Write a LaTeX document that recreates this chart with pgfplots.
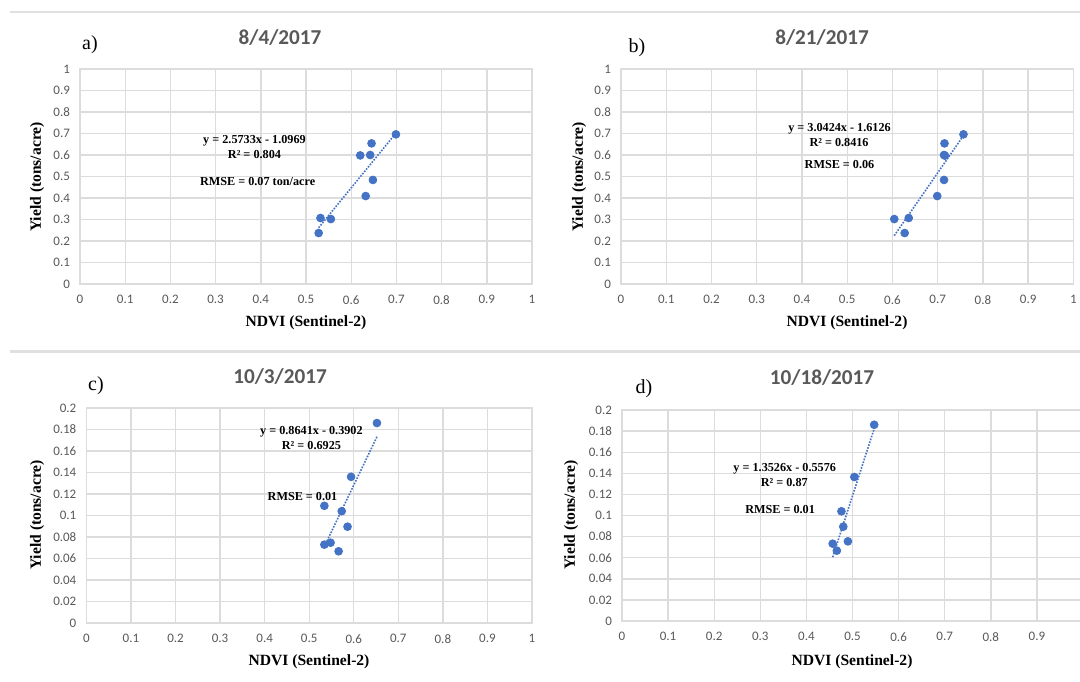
\documentclass[border=0pt]{standalone}
\usepackage{fontspec}
\setmainfont{Liberation Serif}
\newfontfamily\calibri{Carlito}
\usepackage{pgfplots}
\pgfplotsset{compat=1.18}

\definecolor{xlblue}{HTML}{4472C4}
\definecolor{xlgrid}{HTML}{DCDCDC}
\definecolor{xltext}{HTML}{595959}
\definecolor{sepline}{HTML}{E0E0E0}

\pgfplotsset{
  panel/.style={
    scale only axis, anchor=south west, clip=false,
    xmin=0, xmax=1,
    xtick={0,0.1,0.2,0.3,0.4,0.5,0.6,0.7,0.8,0.9,1},
    xticklabels={0,0.1,0.2,0.3,0.4,0.5,0.6,0.7,0.8,0.9,1},
    grid=major, grid style={xlgrid, line width=0.7pt},
    axis line style={xlgrid, line width=0.7pt},
    tick style={draw=none},
    tick label style={font=\calibri\fontsize{6.5}{7}\selectfont, text=xltext},
    xticklabel style={yshift=-2.2pt},
    yticklabel style={xshift=-1.5pt},
  },
  big/.style={ymin=0, ymax=1,
    ytick={0,0.1,0.2,0.3,0.4,0.5,0.6,0.7,0.8,0.9,1},
    yticklabels={0,0.1,0.2,0.3,0.4,0.5,0.6,0.7,0.8,0.9,1}},
  small/.style={ymin=0, ymax=0.2,
    ytick={0,0.02,0.04,0.06,0.08,0.1,0.12,0.14,0.16,0.18,0.2},
    yticklabels={0,0.02,0.04,0.06,0.08,0.1,0.12,0.14,0.16,0.18,0.2}},
  pts/.style={only marks, mark=*, mark size=1.95pt,
    mark options={draw=xlblue, fill=xlblue}},
  trend/.style={xlblue, line width=0.8pt, dash pattern=on 0.8pt off 0.7pt, no marks},
}
\tikzset{
  eqn/.style={font=\bfseries\fontsize{6.1}{7}\selectfont, inner sep=0pt},
  ttl/.style={font=\calibri\bfseries\fontsize{10.6}{12}\selectfont, text=xltext},
  lbl/.style={font=\bfseries\fontsize{7.8}{9}\selectfont},
  tag/.style={font=\fontsize{10}{12}\selectfont},
}

\begin{document}
\begin{tikzpicture}[x=1pt, y=1pt]
\path[use as bounding box, fill=white] (0,0) rectangle (540,340.5);

% separators
\draw[sepline, line width=1pt] (5,334.5) -- (540,334.5);
\draw[sepline, line width=1.5pt] (5,165) -- (540,165);

% a) 8/4/2017
\begin{axis}[panel, big, at={(40pt,198.5pt)}, width=226pt, height=107.5pt]
  \addplot[pts] coordinates {
    (0.699,0.696) (0.645,0.654) (0.620,0.598) (0.642,0.600) (0.648,0.484)
    (0.632,0.409) (0.532,0.307) (0.555,0.302) (0.528,0.237)
  };
  \addplot[trend] coordinates {(0.528,0.2618) (0.699,0.7018)};
  \node[eqn] at (axis cs:0.386,0.667) {y = 2.5733x - 1.0969};
  \node[eqn] at (axis cs:0.386,0.603) {R² = 0.804};
  \node[eqn] at (axis cs:0.393,0.476) {RMSE = 0.07 ton/acre};
\end{axis}

% b) 8/21/2017
\begin{axis}[panel, big, at={(310.5pt,198.5pt)}, width=226.2pt, height=107.5pt]
  \addplot[pts] coordinates {
    (0.757,0.696) (0.715,0.654) (0.714,0.600) (0.716,0.597) (0.714,0.484)
    (0.699,0.409) (0.604,0.302) (0.636,0.307) (0.627,0.237)
  };
  \addplot[trend] coordinates {(0.604,0.2250) (0.757,0.6905)};
  \node[eqn] at (axis cs:0.483,0.724) {y = 3.0424x - 1.6126};
  \node[eqn] at (axis cs:0.482,0.659) {R² = 0.8416};
  \node[eqn] at (axis cs:0.483,0.555) {RMSE = 0.06};
\end{axis}

% c) 10/3/2017
\begin{axis}[panel, small, at={(43.2pt,29pt)}, width=222.8pt, height=107.5pt]
  \addplot[pts] coordinates {
    (0.652,0.186) (0.594,0.136) (0.534,0.109) (0.573,0.104) (0.586,0.0896)
    (0.534,0.0729) (0.548,0.0747) (0.566,0.0667)
  };
  \addplot[trend] coordinates {(0.534,0.0712) (0.652,0.1732)};
  \node[eqn] at (axis cs:0.505,0.178) {y = 0.8641x - 0.3902};
  \node[eqn] at (axis cs:0.505,0.165) {R² = 0.6925};
  \node[eqn] at (axis cs:0.485,0.118) {RMSE = 0.01};
\end{axis}

% d) 10/18/2017 -- right edge falls just outside the picture
\begin{axis}[panel, small, at={(311pt,30pt)}, width=230.5pt, height=105.5pt,
    xticklabels={0,0.1,0.2,0.3,0.4,0.5,0.6,0.7,0.8,0.9,{}}]
  \addplot[pts] coordinates {
    (0.547,0.186) (0.504,0.1365) (0.476,0.104) (0.480,0.0894) (0.490,0.0755)
    (0.457,0.0733) (0.466,0.0667)
  };
  \addplot[trend] coordinates {(0.457,0.0605) (0.547,0.1823)};
  \node[eqn] at (axis cs:0.353,0.1447) {y = 1.3526x - 0.5576};
  \node[eqn] at (axis cs:0.352,0.131) {R² = 0.87};
  \node[eqn] at (axis cs:0.343,0.106) {RMSE = 0.01};
\end{axis}

% titles, panel tags, axis labels
\node[ttl] at (140,321.5) {8/4/2017};
\node[ttl] at (411,321.5) {8/21/2017};
\node[ttl] at (140,152) {10/3/2017};
\node[ttl] at (411,151.5) {10/18/2017};

\node[tag] at (45,318) {a)};
\node[tag] at (318.5,316.5) {b)};
\node[tag] at (48,147.5) {c)};
\node[tag] at (322,146) {d)};

\node[lbl] at (153,179) {NDVI (Sentinel-2)};
\node[lbl] at (423.5,179) {NDVI (Sentinel-2)};
\node[lbl] at (154.5,9.5) {NDVI (Sentinel-2)};
\node[lbl] at (426,9.5) {NDVI (Sentinel-2)};

\node[lbl, rotate=90] at (18.5,252) {Yield (tons/acre)};
\node[lbl, rotate=90] at (289.5,252) {Yield (tons/acre)};
\node[lbl, rotate=90] at (18.5,83) {Yield (tons/acre)};
\node[lbl, rotate=90] at (285.5,83) {Yield (tons/acre)};
\end{tikzpicture}
\end{document}
